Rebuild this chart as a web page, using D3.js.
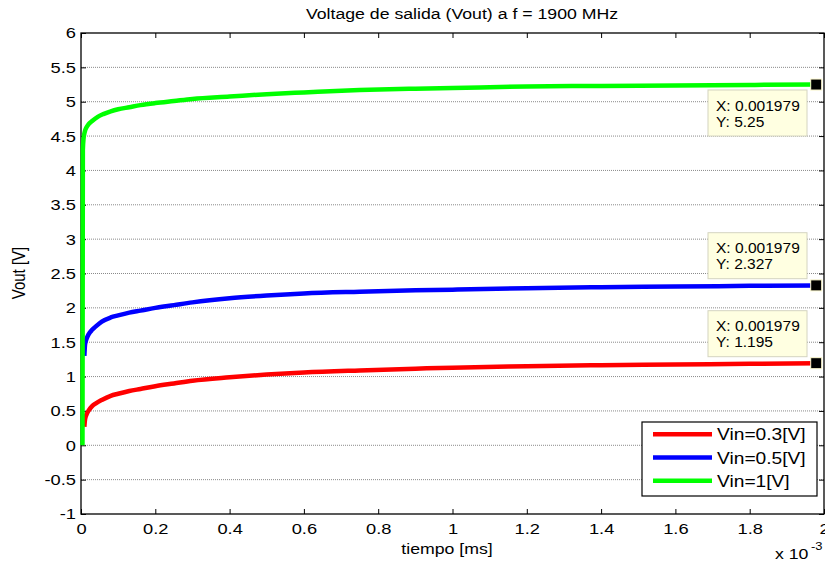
<!DOCTYPE html>
<html>
<head>
<meta charset="utf-8">
<script src="https://cdn.jsdelivr.net/npm/d3@7"></script>
<style>
  body { margin: 0; background: #fff; }
  svg { display: block; font-family: "Liberation Sans", Arial, Helvetica, sans-serif; }
</style>
</head>
<body>
<svg id="chart" width="825" height="565"></svg>
<script>
// Output voltage traces, time in milliseconds
const tiempoVerdeMs = [0.004, 0.005, 0.007, 0.01, 0.015, 0.02, 0.03, 0.045, 0.06, 0.08, 0.1, 0.13, 0.16, 0.2, 0.25, 0.3, 0.4, 0.5, 0.6, 0.75, 0.9, 1.0, 1.2, 1.4, 1.6, 1.8, 1.979];
const vinVerde      = [0, 4.30, 4.47, 4.56, 4.63, 4.67, 4.72, 4.78, 4.82, 4.86, 4.89, 4.92, 4.95, 4.98, 5.01, 5.04, 5.075, 5.11, 5.135, 5.17, 5.19, 5.20, 5.222, 5.23, 5.237, 5.244, 5.25];

const tiempoMs = [0.009, 0.011, 0.015, 0.02, 0.03, 0.04, 0.056, 0.08, 0.1, 0.13, 0.16, 0.2, 0.25, 0.3, 0.4, 0.5, 0.6, 0.75, 0.9, 1.0, 1.2, 1.4, 1.6, 1.8, 1.979];
const vinAzul  = [1.30, 1.47, 1.55, 1.61, 1.68, 1.73, 1.80, 1.86, 1.89, 1.93, 1.96, 2.00, 2.04, 2.08, 2.14, 2.18, 2.21, 2.235, 2.255, 2.265, 2.285, 2.30, 2.31, 2.32, 2.327];
const vinRojo  = [0.27, 0.38, 0.45, 0.50, 0.57, 0.61, 0.66, 0.72, 0.75, 0.79, 0.82, 0.86, 0.90, 0.94, 0.99, 1.03, 1.06, 1.09, 1.115, 1.13, 1.15, 1.165, 1.175, 1.185, 1.195];

const seriesNames  = ["Vin=0.3[V]", "Vin=0.5[V]", "Vin=1[V]"];
const seriesColors = ["#ff0000", "#0000ff", "#00ff00"];

// Data cursors at the last sample of each trace
const cursorX = 0.001979;
const cursorY = [1.195, 2.327, 5.25];

const yTicks   = [-1, -0.5, 0, 0.5, 1, 1.5, 2, 2.5, 3, 3.5, 4, 4.5, 5, 5.5, 6];
const xTicksMs = [0, 0.2, 0.4, 0.6, 0.8, 1, 1.2, 1.4, 1.6, 1.8, 2];

const titleText = "Voltage de salida (Vout) a f = 1900 MHz";
const xLabel = "tiempo [ms]";
const yLabel = "Vout [V]";

const SX = 1.18; // horizontal stretch of the lettering
const svg = d3.select("#chart");
const pLeft = 81, pRight = 824, pTop = 33, pBottom = 514;

const x = d3.scaleLinear().domain([0, 0.002]).range([pLeft, pRight]);
const y = d3.scaleLinear().domain([-1, 6]).range([pBottom, pTop]);

// grid
svg.append("g").selectAll("line")
  .data(yTicks.filter(v => v > -1 && v < 6))
  .join("line")
  .attr("x1", pLeft).attr("x2", pRight)
  .attr("y1", d => y(d)).attr("y2", d => y(d))
  .attr("stroke", "#8a8a8a").attr("stroke-width", 1)
  .attr("stroke-dasharray", "1,1");

// axes
const fmtMs = d => String(+(d * 1000).toFixed(3));
const fmtV = d => String(d);
const xTicks = xTicksMs.map(t => t / 1000);

const gx = svg.append("g").attr("transform", `translate(0,${pBottom})`)
  .call(d3.axisBottom(x).tickValues(xTicks).tickFormat(fmtMs).tickSize(-5).tickPadding(9));
const gxt = svg.append("g").attr("transform", `translate(0,${pTop})`)
  .call(d3.axisTop(x).tickValues(xTicks).tickFormat("").tickSize(-5));
const gy = svg.append("g").attr("transform", `translate(${pLeft},0)`)
  .call(d3.axisLeft(y).tickValues(yTicks).tickFormat(fmtV).tickSize(-5).tickPadding(5));
const gyr = svg.append("g").attr("transform", `translate(${pRight},0)`)
  .call(d3.axisRight(y).tickValues(yTicks).tickFormat("").tickSize(-5));

[gx, gxt, gy, gyr].forEach(g => {
  g.select(".domain").remove();
  g.selectAll("line").attr("stroke", "#000");
  g.selectAll("text").attr("font-size", 15.5).attr("fill", "#000")
    .attr("font-family", "Liberation Sans, Arial, sans-serif")
    .attr("transform", `scale(${SX},1)`);
});
gy.selectAll("text").attr("x", -5 / SX);

// box
svg.append("rect").attr("x", pLeft).attr("y", pTop)
  .attr("width", pRight - pLeft).attr("height", pBottom - pTop)
  .attr("fill", "none").attr("stroke", "#000").attr("stroke-width", 1.3);

// curves
const line = d3.line().x(d => x(d[0] / 1000)).y(d => y(d[1])).curve(d3.curveMonotoneX);
const series = [
  d3.zip(tiempoMs, vinRojo),
  d3.zip(tiempoMs, vinAzul),
  d3.zip(tiempoVerdeMs, vinVerde)
];
svg.append("g").selectAll("path")
  .data(series)
  .join("path")
  .attr("d", line)
  .attr("fill", "none")
  .attr("stroke", (d, i) => seriesColors[i])
  .attr("stroke-width", 4.5)
  .attr("stroke-linejoin", "round");

// helper for stretched text
function label(g, tx, ty, str, size, anchor, sx, extra) {
  return g.append("g").attr("transform", `translate(${tx},${ty}) scale(${sx || SX},1)` + (extra || ""))
    .append("text").attr("font-size", size).attr("text-anchor", anchor || "start").attr("fill", "#000").text(str);
}

// data cursors
const tipTops = [310.7, 232.7, 90];
cursorY.forEach((v, i) => {
  const g = svg.append("g");
  const bx = 708, bw = 99, bh = 46, by = tipTops[i];
  g.append("rect").attr("x", bx).attr("y", by).attr("width", bw).attr("height", bh)
    .attr("fill", "#ffffe1").attr("stroke", "#d4d4c0").attr("stroke-width", 1);
  label(g, bx + 8, by + 20.5, "X: " + cursorX, 14, "start", 1.11);
  label(g, bx + 8, by + 36.5, "Y: " + v, 14, "start", 1.11);
  g.append("rect").attr("x", x(cursorX) - 5.5).attr("y", y(v) - 5.5)
    .attr("width", 11).attr("height", 11)
    .attr("fill", "#000").attr("stroke", "#fffbd0").attr("stroke-width", 1);
});

// legend
const lg = svg.append("g");
lg.append("rect").attr("x", 642).attr("y", 422).attr("width", 175).attr("height", 74)
  .attr("fill", "#fff").attr("stroke", "#000").attr("stroke-width", 1.2);
seriesNames.forEach((name, i) => {
  const ry = 434.3 + i * 23.2;
  lg.append("line").attr("x1", 653).attr("x2", 712).attr("y1", ry).attr("y2", ry)
    .attr("stroke", seriesColors[i]).attr("stroke-width", 4.5);
  label(lg, 717, ry + 6, name, 16, "start", 1.2);
});

// titles
label(svg, 462, 19, titleText, 15, "middle");
label(svg, 447, 554, xLabel, 15, "middle");
label(svg, 775, 559, "x 10", 15, "start");
label(svg, 811, 550, "-3", 11, "start");
label(svg, 25, 273, yLabel, 15, "middle", SX, " rotate(-90)");
</script>
</body>
</html>
